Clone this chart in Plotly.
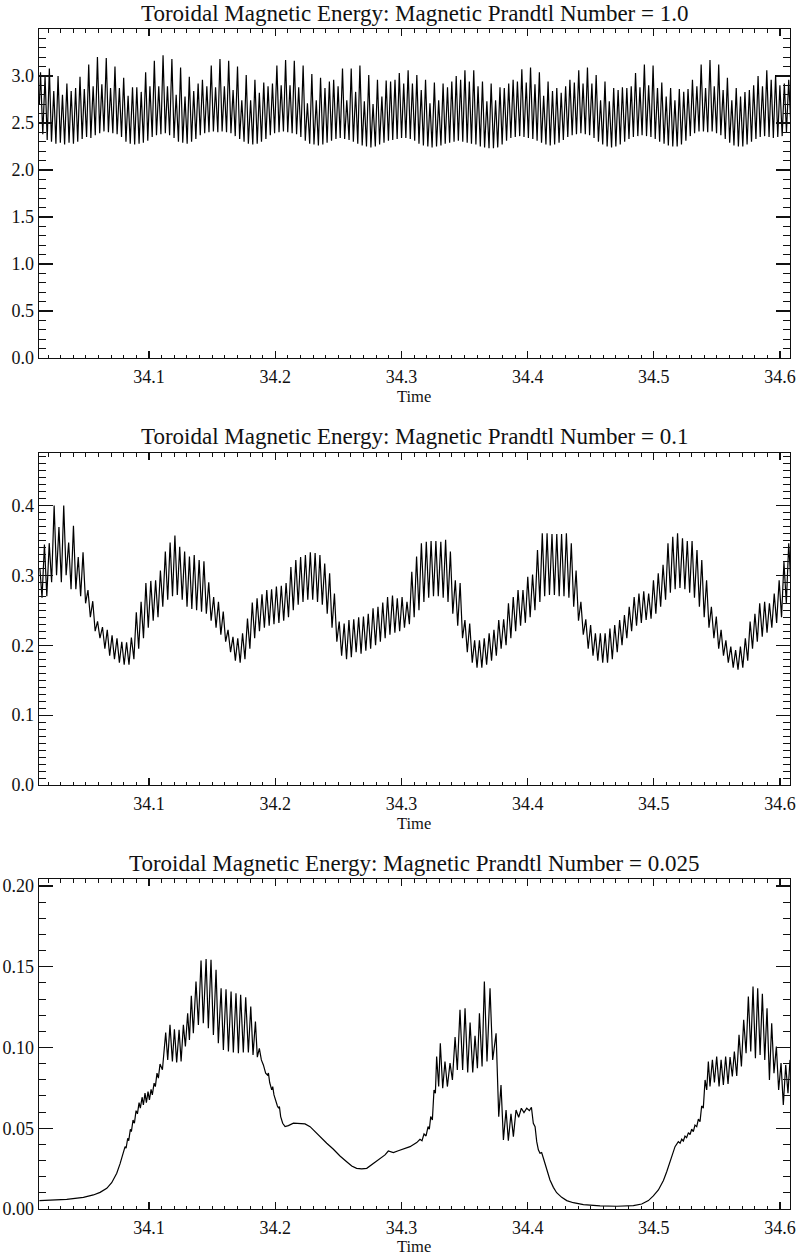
import plotly.graph_objects as go

# ------------------------------------------------------------------
# DATA
# ------------------------------------------------------------------
# Panel 1 : Magnetic Prandtl Number = 1.0
pm1_lead_time = [34.0131, 34.0140, 34.0158, 34.0176, 34.0193]
pm1_lead_energy = [2.70, 3.04, 2.38, 3.00, 2.32]
pm1_time = [
    34.0210, 34.0227, 34.0245, 34.0262, 34.0279, 34.0297, 34.0314, 34.0331, 34.0349, 34.0366,
    34.0383, 34.0401, 34.0418, 34.0435, 34.0453, 34.0470, 34.0487, 34.0505, 34.0522, 34.0539,
    34.0557, 34.0574, 34.0591, 34.0609, 34.0626, 34.0643, 34.0661, 34.0678, 34.0695, 34.0713,
    34.0730, 34.0747, 34.0765, 34.0782, 34.0799, 34.0817, 34.0834, 34.0851, 34.0869, 34.0886,
    34.0903, 34.0921, 34.0938, 34.0955, 34.0973, 34.0990, 34.1007, 34.1025, 34.1042, 34.1059,
    34.1077, 34.1094, 34.1111, 34.1129, 34.1146, 34.1163, 34.1181, 34.1198, 34.1215, 34.1233,
    34.1250, 34.1267, 34.1285, 34.1302, 34.1319, 34.1337, 34.1354, 34.1371, 34.1389, 34.1406,
    34.1423, 34.1441, 34.1458, 34.1475, 34.1493, 34.1510, 34.1527, 34.1545, 34.1562, 34.1579,
    34.1597, 34.1614, 34.1631, 34.1649, 34.1666, 34.1683, 34.1701, 34.1718, 34.1735, 34.1753,
    34.1770, 34.1787, 34.1805, 34.1822, 34.1839, 34.1857, 34.1874, 34.1891, 34.1909, 34.1926,
    34.1943, 34.1961, 34.1978, 34.1995, 34.2013, 34.2030, 34.2047, 34.2065, 34.2082, 34.2099,
    34.2117, 34.2134, 34.2151, 34.2169, 34.2186, 34.2203, 34.2221, 34.2238, 34.2255, 34.2273,
    34.2290, 34.2307, 34.2325, 34.2342, 34.2359, 34.2377, 34.2394, 34.2411, 34.2429, 34.2446,
    34.2463, 34.2481, 34.2498, 34.2515, 34.2533, 34.2550, 34.2567, 34.2585, 34.2602, 34.2619,
    34.2637, 34.2654, 34.2671, 34.2689, 34.2706, 34.2723, 34.2741, 34.2758, 34.2775, 34.2793,
    34.2810, 34.2827, 34.2845, 34.2862, 34.2879, 34.2897, 34.2914, 34.2931, 34.2949, 34.2966,
    34.2983, 34.3001, 34.3018, 34.3035, 34.3053, 34.3070, 34.3087, 34.3105, 34.3122, 34.3139,
    34.3157, 34.3174, 34.3191, 34.3209, 34.3226, 34.3243, 34.3261, 34.3278, 34.3295, 34.3313,
    34.3330, 34.3347, 34.3365, 34.3382, 34.3399, 34.3417, 34.3434, 34.3451, 34.3469, 34.3486,
    34.3503, 34.3521, 34.3538, 34.3555, 34.3573, 34.3590, 34.3607, 34.3625, 34.3642, 34.3659,
    34.3677, 34.3694, 34.3711, 34.3729, 34.3746, 34.3763, 34.3781, 34.3798, 34.3815, 34.3833,
    34.3850, 34.3867, 34.3885, 34.3902, 34.3919, 34.3937, 34.3954, 34.3971, 34.3989, 34.4006,
    34.4023, 34.4041, 34.4058, 34.4075, 34.4093, 34.4110, 34.4127, 34.4145, 34.4162, 34.4179,
    34.4197, 34.4214, 34.4231, 34.4249, 34.4266, 34.4283, 34.4301, 34.4318, 34.4335, 34.4353,
    34.4370, 34.4387, 34.4405, 34.4422, 34.4439, 34.4457, 34.4474, 34.4491, 34.4509, 34.4526,
    34.4543, 34.4561, 34.4578, 34.4595, 34.4613, 34.4630, 34.4647, 34.4665, 34.4682, 34.4699,
    34.4717, 34.4734, 34.4751, 34.4769, 34.4786, 34.4803, 34.4821, 34.4838, 34.4855, 34.4873,
    34.4890, 34.4907, 34.4925, 34.4942, 34.4959, 34.4977, 34.4994, 34.5011, 34.5029, 34.5046,
    34.5063, 34.5081, 34.5098, 34.5115, 34.5133, 34.5150, 34.5167, 34.5185, 34.5202, 34.5219,
    34.5237, 34.5254, 34.5271, 34.5289, 34.5306, 34.5323, 34.5341, 34.5358, 34.5375, 34.5393,
    34.5410, 34.5427, 34.5445, 34.5462, 34.5479, 34.5497, 34.5514, 34.5531, 34.5549, 34.5566,
    34.5583, 34.5601, 34.5618, 34.5635, 34.5653, 34.5670, 34.5687, 34.5705, 34.5722, 34.5739,
    34.5757, 34.5774, 34.5791, 34.5809, 34.5826, 34.5843, 34.5861, 34.5878, 34.5895, 34.5913,
    34.5930, 34.5947, 34.5965, 34.5982, 34.5999, 34.6017, 34.6034, 34.6051, 34.6069, 34.6086,
]
pm1_peaks = [
    3.08, 2.84, 3.00, 2.80, 2.92, 2.84, 2.87, 2.99, 2.86, 3.12,
    2.89, 3.20, 2.91, 3.19, 2.87, 3.10, 2.87, 2.98, 2.79, 2.88,
    2.88, 2.83, 3.04, 2.89, 3.16, 2.89, 3.22, 2.89, 3.18, 2.80,
    3.09, 2.78, 2.99, 2.84, 2.92, 2.96, 2.89, 3.11, 2.88, 3.18,
    2.89, 3.16, 2.85, 3.10, 2.74, 3.01, 2.74, 2.96, 2.82, 2.93,
    2.89, 2.92, 3.11, 2.90, 3.17, 2.90, 3.16, 2.88, 3.11, 2.71,
    3.02, 2.74, 2.98, 2.87, 2.94, 2.96, 2.89, 3.08, 2.74, 3.08,
    2.83, 3.11, 2.73, 3.01, 2.70, 2.96, 2.78, 2.95, 2.94, 2.96,
    3.03, 2.92, 3.06, 2.92, 3.01, 2.85, 2.96, 2.71, 2.93, 2.74,
    2.92, 2.88, 2.94, 3.00, 2.96, 3.06, 2.94, 3.06, 2.89, 2.94,
    2.73, 2.92, 2.74, 2.88, 2.87, 2.92, 2.96, 2.94, 3.07, 2.93,
    3.09, 2.91, 3.04, 2.79, 2.94, 2.84, 2.87, 2.82, 2.89, 2.96,
    2.93, 3.06, 2.92, 3.09, 2.92, 3.01, 2.74, 2.94, 2.73, 2.87,
    2.85, 2.88, 2.87, 2.89, 3.03, 2.88, 3.12, 2.90, 3.11, 2.87,
    2.93, 2.78, 2.87, 2.74, 2.86, 2.83, 2.86, 2.96, 2.89, 3.12,
    2.87, 3.17, 2.89, 3.12, 2.85, 2.98, 2.74, 2.87, 2.78, 2.83,
    2.85, 2.90, 3.00, 2.89, 3.06, 2.96, 3.01, 2.90, 2.92, 2.96,
]
pm1_troughs = [
    2.30, 2.28, 2.29, 2.27, 2.29, 2.28, 2.30, 2.33, 2.35, 2.34,
    2.37, 2.39, 2.41, 2.40, 2.39, 2.38, 2.35, 2.30, 2.28, 2.27,
    2.28, 2.29, 2.31, 2.35, 2.37, 2.38, 2.39, 2.37, 2.34, 2.30,
    2.29, 2.28, 2.30, 2.33, 2.37, 2.39, 2.40, 2.41, 2.40, 2.41,
    2.40, 2.39, 2.36, 2.33, 2.30, 2.28, 2.27, 2.28, 2.30, 2.33,
    2.37, 2.39, 2.40, 2.41, 2.40, 2.39, 2.38, 2.35, 2.31, 2.28,
    2.27, 2.26, 2.27, 2.29, 2.31, 2.33, 2.34, 2.33, 2.32, 2.30,
    2.28, 2.26, 2.25, 2.24, 2.25, 2.27, 2.29, 2.31, 2.32, 2.33,
    2.34, 2.34, 2.33, 2.31, 2.28, 2.26, 2.25, 2.24, 2.25, 2.26,
    2.28, 2.29, 2.30, 2.31, 2.30, 2.29, 2.28, 2.27, 2.25, 2.24,
    2.23, 2.23, 2.24, 2.27, 2.31, 2.34, 2.35, 2.36, 2.35, 2.34,
    2.33, 2.31, 2.29, 2.27, 2.26, 2.27, 2.29, 2.32, 2.35, 2.37,
    2.38, 2.39, 2.38, 2.37, 2.34, 2.30, 2.27, 2.25, 2.24, 2.25,
    2.27, 2.30, 2.33, 2.35, 2.36, 2.37, 2.36, 2.35, 2.33, 2.30,
    2.28, 2.26, 2.25, 2.25, 2.27, 2.31, 2.36, 2.39, 2.41, 2.41,
    2.40, 2.41, 2.39, 2.37, 2.33, 2.29, 2.26, 2.25, 2.25, 2.27,
    2.30, 2.33, 2.35, 2.36, 2.35, 2.34, 2.35, 2.36, 2.40, 2.45,
]

# Panel 2 : Magnetic Prandtl Number = 0.1
pm2_lead_time = [34.0135, 34.0152]
pm2_lead_energy = [0.310, 0.268]
pm2_time = [
    34.0171, 34.0190, 34.0209, 34.0228, 34.0248, 34.0267, 34.0286, 34.0305, 34.0324, 34.0343,
    34.0363, 34.0382, 34.0401, 34.0420, 34.0439, 34.0458, 34.0477, 34.0497, 34.0516, 34.0535,
    34.0554, 34.0573, 34.0592, 34.0611, 34.0631, 34.0650, 34.0669, 34.0688, 34.0707, 34.0726,
    34.0746, 34.0765, 34.0784, 34.0803, 34.0822, 34.0841, 34.0860, 34.0880, 34.0899, 34.0918,
    34.0937, 34.0956, 34.0975, 34.0994, 34.1014, 34.1033, 34.1052, 34.1071, 34.1090, 34.1109,
    34.1129, 34.1148, 34.1167, 34.1186, 34.1205, 34.1224, 34.1243, 34.1263, 34.1282, 34.1301,
    34.1320, 34.1339, 34.1358, 34.1377, 34.1397, 34.1416, 34.1435, 34.1454, 34.1473, 34.1492,
    34.1512, 34.1531, 34.1550, 34.1569, 34.1588, 34.1607, 34.1626, 34.1646, 34.1665, 34.1684,
    34.1703, 34.1722, 34.1741, 34.1760, 34.1780, 34.1799, 34.1818, 34.1837, 34.1856, 34.1875,
    34.1895, 34.1914, 34.1933, 34.1952, 34.1971, 34.1990, 34.2009, 34.2029, 34.2048, 34.2067,
    34.2086, 34.2105, 34.2124, 34.2143, 34.2163, 34.2182, 34.2201, 34.2220, 34.2239, 34.2258,
    34.2278, 34.2297, 34.2316, 34.2335, 34.2354, 34.2373, 34.2392, 34.2412, 34.2431, 34.2450,
    34.2469, 34.2488, 34.2507, 34.2526, 34.2546, 34.2565, 34.2584, 34.2603, 34.2622, 34.2641,
    34.2661, 34.2680, 34.2699, 34.2718, 34.2737, 34.2756, 34.2775, 34.2795, 34.2814, 34.2833,
    34.2852, 34.2871, 34.2890, 34.2909, 34.2929, 34.2948, 34.2967, 34.2986, 34.3005, 34.3024,
    34.3044, 34.3063, 34.3082, 34.3101, 34.3120, 34.3139, 34.3158, 34.3178, 34.3197, 34.3216,
    34.3235, 34.3254, 34.3273, 34.3292, 34.3312, 34.3331, 34.3350, 34.3369, 34.3388, 34.3407,
    34.3427, 34.3446, 34.3465, 34.3484, 34.3503, 34.3522, 34.3541, 34.3561, 34.3580, 34.3599,
    34.3618, 34.3637, 34.3656, 34.3675, 34.3695, 34.3714, 34.3733, 34.3752, 34.3771, 34.3790,
    34.3810, 34.3829, 34.3848, 34.3867, 34.3886, 34.3905, 34.3924, 34.3944, 34.3963, 34.3982,
    34.4001, 34.4020, 34.4039, 34.4058, 34.4078, 34.4097, 34.4116, 34.4135, 34.4154, 34.4173,
    34.4193, 34.4212, 34.4231, 34.4250, 34.4269, 34.4288, 34.4307, 34.4327, 34.4346, 34.4365,
    34.4384, 34.4403, 34.4422, 34.4441, 34.4461, 34.4480, 34.4499, 34.4518, 34.4537, 34.4556,
    34.4576, 34.4595, 34.4614, 34.4633, 34.4652, 34.4671, 34.4690, 34.4710, 34.4729, 34.4748,
    34.4767, 34.4786, 34.4805, 34.4824, 34.4844, 34.4863, 34.4882, 34.4901, 34.4920, 34.4939,
    34.4959, 34.4978, 34.4997, 34.5016, 34.5035, 34.5054, 34.5073, 34.5093, 34.5112, 34.5131,
    34.5150, 34.5169, 34.5188, 34.5207, 34.5227, 34.5246, 34.5265, 34.5284, 34.5303, 34.5322,
    34.5342, 34.5361, 34.5380, 34.5399, 34.5418, 34.5437, 34.5456, 34.5476, 34.5495, 34.5514,
    34.5533, 34.5552, 34.5571, 34.5590, 34.5610, 34.5629, 34.5648, 34.5667, 34.5686, 34.5705,
    34.5725, 34.5744, 34.5763, 34.5782, 34.5801, 34.5820, 34.5839, 34.5859, 34.5878, 34.5897,
    34.5916, 34.5935, 34.5954, 34.5973, 34.5993, 34.6012, 34.6031, 34.6050, 34.6069, 34.6088,
]
pm2_peaks = [
    0.344, 0.346, 0.400, 0.369, 0.400, 0.347, 0.371, 0.326, 0.333, 0.279,
    0.263, 0.234, 0.226, 0.222, 0.214, 0.210, 0.205, 0.204, 0.211, 0.247,
    0.262, 0.289, 0.292, 0.293, 0.307, 0.334, 0.347, 0.357, 0.341, 0.334,
    0.327, 0.329, 0.322, 0.320, 0.290, 0.269, 0.262, 0.248, 0.222, 0.212,
    0.210, 0.217, 0.238, 0.261, 0.267, 0.273, 0.279, 0.280, 0.284, 0.285,
    0.289, 0.312, 0.322, 0.326, 0.329, 0.333, 0.332, 0.329, 0.317, 0.303,
    0.274, 0.234, 0.231, 0.236, 0.237, 0.240, 0.241, 0.245, 0.253, 0.255,
    0.261, 0.269, 0.271, 0.267,
    0.269, 0.262, 0.305, 0.327, 0.346, 0.348, 0.349, 0.349, 0.348, 0.351,
    0.334, 0.293, 0.289, 0.236, 0.231, 0.207, 0.207, 0.210, 0.217, 0.222,
    0.236, 0.237, 0.260, 0.269, 0.279, 0.279, 0.298, 0.301, 0.336, 0.360,
    0.360, 0.359, 0.359, 0.359, 0.360, 0.346, 0.307, 0.262, 0.237, 0.229,
    0.217, 0.217, 0.217, 0.224, 0.229, 0.236, 0.243, 0.255, 0.269, 0.274,
    0.277, 0.274, 0.293, 0.303, 0.315, 0.346, 0.355, 0.360, 0.353, 0.349,
    0.349, 0.336, 0.322, 0.293, 0.255, 0.241, 0.222, 0.207, 0.198, 0.193,
    0.198, 0.210, 0.234, 0.245, 0.260, 0.262, 0.260, 0.274, 0.293, 0.319,
    0.346,
]
pm2_troughs = [
    0.270, 0.290, 0.300, 0.290, 0.300, 0.280, 0.280, 0.270, 0.260, 0.240,
    0.220, 0.210, 0.195, 0.185, 0.180, 0.175, 0.172, 0.172, 0.180, 0.195,
    0.210, 0.225, 0.235, 0.240, 0.255, 0.265, 0.270, 0.272, 0.265, 0.255,
    0.252, 0.250, 0.248, 0.245, 0.235, 0.225, 0.215, 0.205, 0.190, 0.178,
    0.175, 0.180, 0.195, 0.210, 0.220, 0.225, 0.228, 0.230, 0.232, 0.235,
    0.240, 0.250, 0.258, 0.262, 0.265, 0.265, 0.262, 0.258, 0.245, 0.225,
    0.205, 0.185, 0.180, 0.183, 0.190, 0.188, 0.192, 0.195, 0.200, 0.205,
    0.210, 0.215, 0.218, 0.220,
    0.225, 0.230, 0.240, 0.250, 0.262, 0.268, 0.270, 0.270, 0.268, 0.262,
    0.245, 0.228, 0.210, 0.190, 0.175, 0.168, 0.168, 0.172, 0.178, 0.185,
    0.195, 0.200, 0.210, 0.220, 0.228, 0.232, 0.240, 0.250, 0.262, 0.270,
    0.272, 0.272, 0.270, 0.270, 0.268, 0.255, 0.235, 0.215, 0.195, 0.185,
    0.178, 0.175, 0.175, 0.180, 0.190, 0.200, 0.210, 0.220, 0.228, 0.232,
    0.236, 0.238, 0.245, 0.255, 0.265, 0.275, 0.280, 0.282, 0.280, 0.275,
    0.268, 0.255, 0.240, 0.225, 0.210, 0.195, 0.185, 0.175, 0.168, 0.165,
    0.168, 0.178, 0.195, 0.205, 0.212, 0.218, 0.225, 0.232, 0.240, 0.260,
    0.280,
]

# Panel 3 : Magnetic Prandtl Number = 0.025
pm3_time = [
    34.0131, 34.0348, 34.0480, 34.0559, 34.0612, 34.0665, 34.0704, 34.0744, 34.0770, 34.0786,
    34.0797, 34.0810, 34.0818, 34.0831, 34.0839, 34.0852, 34.0860, 34.0873, 34.0884, 34.0897,
    34.0908, 34.0921, 34.0931, 34.0945, 34.0955, 34.0968, 34.0979, 34.0992, 34.1003, 34.1016,
    34.1026, 34.1040, 34.1050, 34.1063, 34.1074, 34.1087, 34.1106, 34.1132, 34.1148, 34.1166,
    34.1185, 34.1201, 34.1219, 34.1238, 34.1254, 34.1272, 34.1288, 34.1306, 34.1320, 34.1335,
    34.1351, 34.1372, 34.1391, 34.1412, 34.1430, 34.1452, 34.1470, 34.1491, 34.1510, 34.1531,
    34.1549, 34.1571, 34.1589, 34.1610, 34.1629, 34.1650, 34.1668, 34.1689, 34.1708, 34.1726,
    34.1747, 34.1766, 34.1787, 34.1806, 34.1824, 34.1843, 34.1858, 34.1874, 34.1890, 34.1906,
    34.1924, 34.1938, 34.1946, 34.1956, 34.1972, 34.1980, 34.1990, 34.2006, 34.2017, 34.2027,
    34.2033, 34.2043, 34.2059, 34.2078, 34.2104, 34.2144, 34.2196, 34.2236, 34.2276, 34.2315,
    34.2355, 34.2408, 34.2461, 34.2513, 34.2566, 34.2606, 34.2645, 34.2685, 34.2725, 34.2751,
    34.2791, 34.2830, 34.2870, 34.2896, 34.2936, 34.2975,
    34.3015, 34.3068, 34.3121, 34.3147, 34.3163, 34.3179, 34.3195, 34.3211, 34.3221, 34.3232,
    34.3245, 34.3258, 34.3269, 34.3279, 34.3295, 34.3308, 34.3327, 34.3345, 34.3364, 34.3385,
    34.3404, 34.3425, 34.3443, 34.3464, 34.3485, 34.3504, 34.3525, 34.3544, 34.3565, 34.3583,
    34.3602, 34.3618, 34.3639, 34.3657, 34.3678, 34.3702, 34.3723, 34.3750, 34.3771, 34.3789,
    34.3808, 34.3829, 34.3847, 34.3868, 34.3887, 34.3908, 34.3929, 34.3950, 34.3971, 34.3993,
    34.4014, 34.4030, 34.4045, 34.4059, 34.4072, 34.4085, 34.4098, 34.4111, 34.4125, 34.4151,
    34.4177, 34.4204, 34.4230, 34.4270, 34.4310, 34.4362, 34.4442, 34.4574, 34.4706, 34.4838,
    34.4904, 34.4957, 34.4996, 34.5036, 34.5076, 34.5102, 34.5128, 34.5150, 34.5168, 34.5194,
    34.5208, 34.5221, 34.5234, 34.5247, 34.5260, 34.5274, 34.5287, 34.5300, 34.5313, 34.5326,
    34.5340, 34.5353, 34.5366, 34.5379, 34.5392, 34.5406, 34.5419, 34.5432, 34.5445, 34.5464,
    34.5480, 34.5498, 34.5517, 34.5533, 34.5551, 34.5569, 34.5588, 34.5604, 34.5622, 34.5638,
    34.5657, 34.5675, 34.5694, 34.5712, 34.5731, 34.5749, 34.5768, 34.5786, 34.5805, 34.5823,
    34.5842, 34.5860, 34.5879, 34.5897, 34.5916, 34.5934, 34.5952, 34.5971, 34.5989, 34.6008,
    34.6026, 34.6045, 34.6063, 34.6079,
]
pm3_energy = [
    0.0052, 0.0060, 0.0072, 0.0087, 0.0103, 0.0128, 0.0163, 0.0221, 0.0279, 0.0324,
    0.0345, 0.0386, 0.0376, 0.0438, 0.0423, 0.0494, 0.0479, 0.0551, 0.0531, 0.0609,
    0.0589, 0.0659, 0.0624, 0.0692, 0.0644, 0.0717, 0.0659, 0.0727, 0.0675, 0.0741,
    0.0706, 0.0779, 0.0758, 0.0841, 0.0810, 0.0898, 0.0862, 0.1093, 0.0923, 0.1140,
    0.0913, 0.1113, 0.0907, 0.1109, 0.0913, 0.1140, 0.1006, 0.1212, 0.1047, 0.1320,
    0.1088, 0.1409, 0.1140, 0.1539, 0.1150, 0.1547, 0.1119, 0.1543, 0.1078, 0.1481,
    0.1026, 0.1367, 0.0985, 0.1361, 0.0975, 0.1347, 0.0969, 0.1336, 0.0964, 0.1326,
    0.0969, 0.1311, 0.0969, 0.1254, 0.0954, 0.1161, 0.0940, 0.0995, 0.0923, 0.0892,
    0.0841, 0.0830, 0.0841, 0.0783, 0.0737, 0.0758, 0.0706, 0.0655, 0.0638, 0.0624,
    0.0634, 0.0572, 0.0531, 0.0510, 0.0516, 0.0531, 0.0531, 0.0527, 0.0510, 0.0479,
    0.0444, 0.0407, 0.0370, 0.0328, 0.0293, 0.0266, 0.0252, 0.0248, 0.0252, 0.0266,
    0.0293, 0.0314, 0.0335, 0.0359, 0.0349, 0.0361,
    0.0370, 0.0386, 0.0411, 0.0432, 0.0423, 0.0465, 0.0452, 0.0510, 0.0494, 0.0572,
    0.0551, 0.0737, 0.0717, 0.0944, 0.0758, 0.1026, 0.0748, 0.0913, 0.0758, 0.0903,
    0.0799, 0.1064, 0.0861, 0.1233, 0.0861, 0.1243, 0.0845, 0.1154, 0.0845, 0.1072,
    0.0872, 0.1212, 0.0882, 0.1409, 0.0913, 0.1367, 0.0923, 0.1088, 0.0572, 0.0768,
    0.0428, 0.0613, 0.0423, 0.0589, 0.0448, 0.0613, 0.0568, 0.0624, 0.0597, 0.0624,
    0.0609, 0.0630, 0.0531, 0.0510, 0.0417, 0.0366, 0.0345, 0.0349, 0.0314, 0.0242,
    0.0180, 0.0134, 0.0101, 0.0072, 0.0052, 0.0039, 0.0027, 0.0019, 0.0017, 0.0021,
    0.0031, 0.0052, 0.0081, 0.0118, 0.0176, 0.0231, 0.0293, 0.0345, 0.0386, 0.0417,
    0.0407, 0.0432, 0.0421, 0.0452, 0.0442, 0.0473, 0.0461, 0.0494, 0.0479, 0.0520,
    0.0510, 0.0556, 0.0541, 0.0638, 0.0624, 0.0799, 0.0737, 0.0913, 0.0758, 0.0923,
    0.0783, 0.0944, 0.0758, 0.0923, 0.0768, 0.0944, 0.0774, 0.0940, 0.0820, 0.0975,
    0.0824, 0.1078, 0.0882, 0.1171, 0.0964, 0.1316, 0.0975, 0.1378, 0.0933, 0.1367,
    0.0954, 0.1332, 0.0923, 0.1243, 0.0799, 0.1150, 0.0841, 0.1006, 0.0737, 0.0903,
    0.0644, 0.0892, 0.0717, 0.0923,
]

panel_titles = [
    "Toroidal Magnetic Energy: Magnetic Prandtl Number = 1.0",
    "Toroidal Magnetic Energy: Magnetic Prandtl Number = 0.1",
    "Toroidal Magnetic Energy: Magnetic Prandtl Number = 0.025",
]
x_axis_title = "Time"
time_range = [34.0128, 34.6079]
y_ranges = [[0.0, 3.499], [0.0, 0.475], [0.0, 0.2043]]
y_major_steps = [0.5, 0.1, 0.05]
y_minor_steps = [0.1, 0.01, 0.01]
y_tick_formats = [".1f", ".1f", ".2f"]


# ------------------------------------------------------------------
# BUILD
# ------------------------------------------------------------------
def zigzag(peaks, troughs):
    out = []
    for p, t in zip(peaks, troughs):
        out.append(p)
        out.append(t)
    return out


def pair(times, values):
    n = min(len(times), len(values))
    return list(times[:n]), list(values[:n])


series = [
    pair(pm1_lead_time + pm1_time, pm1_lead_energy + zigzag(pm1_peaks, pm1_troughs)),
    pair(pm2_lead_time + pm2_time, pm2_lead_energy + zigzag(pm2_peaks, pm2_troughs)),
    pair(pm3_time, pm3_energy),
]

W, H = 800, 1256
FONT = "Liberation Serif"
INK = "#111111"
X_LEFT, X_RIGHT = 39, 790
# plot-area (top, bottom) pixel rows of the three panels
PANEL_ROWS = [(29, 358), (453, 785), (879, 1209)]

fig = go.Figure()
for i, (tx, ty) in enumerate(series):
    ax = "" if i == 0 else str(i + 1)
    fig.add_trace(go.Scatter(
        x=tx, y=ty, mode="lines",
        line=dict(color="black", width=1.2),
        xaxis="x" + ax, yaxis="y" + ax,
        hoverinfo="skip", showlegend=False,
    ))

    top, bot = PANEL_ROWS[i]
    ydom = [1 - bot / H, 1 - top / H]
    xdom = [X_LEFT / W, X_RIGHT / W]

    common = dict(
        showline=True, linecolor=INK, linewidth=1.4, mirror="ticks",
        ticks="inside", tickcolor=INK, tickwidth=1.2,
        showgrid=False, zeroline=False, automargin=False,
        tickfont=dict(family=FONT, size=18, color=INK),
    )
    xa = dict(common)
    xa.update(
        domain=xdom, range=time_range, anchor="y" + ax,
        tickmode="linear", tick0=34.0, dtick=0.1, tickformat=".1f", ticklen=7,
        ticklabelstandoff=2,
        minor=dict(ticks="inside", tick0=34.0, dtick=0.01, ticklen=3.5,
                   tickcolor=INK, tickwidth=1.0, showgrid=False),
    )
    ya = dict(common)
    ya.update(
        domain=ydom, range=y_ranges[i], anchor="x" + ax,
        tickmode="linear", tick0=0, dtick=y_major_steps[i],
        tickformat=y_tick_formats[i], ticklen=14,
        minor=dict(ticks="inside", tick0=0, dtick=y_minor_steps[i], ticklen=7,
                   tickcolor=INK, tickwidth=1.0, showgrid=False),
    )
    fig.layout["xaxis" + ax] = xa
    fig.layout["yaxis" + ax] = ya

    cx = (X_LEFT + X_RIGHT) / 2 / W
    fig.add_annotation(
        text=panel_titles[i], xref="paper", yref="paper",
        x=cx, y=1 - (top - 16) / H, xanchor="center", yanchor="middle",
        showarrow=False, font=dict(family=FONT, size=23, color=INK),
    )
    time_center = min(bot + 38, H - 9.5)
    fig.add_annotation(
        text=x_axis_title, xref="paper", yref="paper",
        x=cx, y=1 - time_center / H, xanchor="center", yanchor="middle",
        showarrow=False, font=dict(family=FONT, size=16.5, color=INK),
    )

fig.update_layout(
    template="none",
    width=W, height=H, autosize=False,
    margin=dict(l=0, r=0, t=0, b=0, pad=0, autoexpand=False),
    paper_bgcolor="white", plot_bgcolor="white",
    font=dict(family=FONT, color=INK),
    showlegend=False,
)

fig.write_html(
    "out.html",
    config={"displayModeBar": False, "staticPlot": True},
    post_script="document.body.style.margin='0';document.body.style.padding='0';",
)
